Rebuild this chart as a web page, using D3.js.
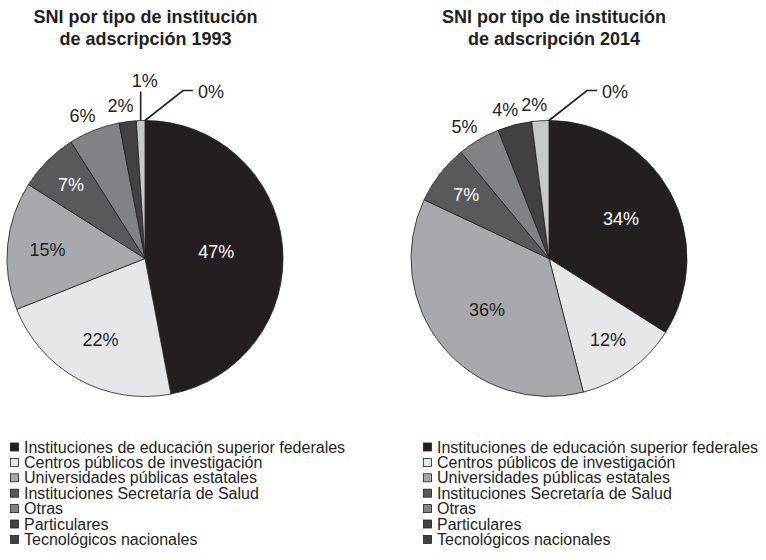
<!DOCTYPE html>
<html>
<head>
<meta charset="UTF-8">
<title>SNI por tipo de institución</title>
<script src="https://d3js.org/d3.v7.min.js"></script>
<style>
    body { margin: 0; background: #fff; }
    text { font-family: "Liberation Sans", Arial, sans-serif; fill: #231f20; }
    .title { font-size: 18px; font-weight: bold; text-anchor: middle; }
    .pct { font-size: 18px; text-anchor: middle; }
    .legend text { font-size: 16px; }
    .slice { stroke: #231f20; stroke-width: 0.8px; }
    .leader { stroke: #231f20; stroke-width: 1.6px; fill: none; }
</style>
</head>
<body>
<script>
    // categorías (la octava no aparece en la leyenda, queda fuera del recorte)
    const categories = [
        "Instituciones de educación superior federales",
        "Centros públicos de investigación",
        "Universidades públicas estatales",
        "Instituciones Secretaría de Salud",
        "Otras",
        "Particulares",
        "Tecnológicos nacionales",
        "Sin dato"
    ];
    const legendNames = categories.slice(0, 7);

    const years = ["1993", "2014"];
    const values1993 = [47, 22, 15, 7, 6, 2, 1, 0];
    const values2014 = [34, 12, 36, 7, 5, 4, 2, 0];

    const sliceColors = ["#231f20", "#e6e7e8", "#a7a9ac", "#58595b", "#808285", "#414042", "#c7c8ca", "#ffffff"];
    const legendColors = ["#231f20", "#e6e7e8", "#a7a9ac", "#58595b", "#808285", "#414042", "#414042"];

    const width = 766;
    const height = 560;
    const radius = 138;

    const charts = [
        { year: years[0], values: values1993, cx: 145, cy: 258.5, titleX: 145.5, legendX: 10 },
        { year: years[1], values: values2014, cx: 549, cy: 258.5, titleX: 554, legendX: 423 }
    ];

    const color = d3.scaleOrdinal().domain(categories).range(sliceColors);
    const legendColor = d3.scaleOrdinal().domain(legendNames).range(legendColors);

    const svg = d3.select('body')
        .append('svg')
        .attr('width', width)
        .attr('height', height);

    const pie = d3.pie()
        .sort(null)
        .value(d => d.value);

    const arc = d3.arc()
        .innerRadius(0)
        .outerRadius(radius);

    function isDark(c) {
        const hsl = d3.hsl(c);
        return hsl.l < 0.45;
    }

    charts.forEach(chart => {
        const data = categories.map((name, i) => ({ name: name, value: chart.values[i] }));
        const arcs = pie(data);

        // título
        const title = svg.append('text')
            .attr('class', 'title')
            .attr('x', chart.titleX)
            .attr('y', 23);
        title.append('tspan').attr('x', chart.titleX).attr('y', 23).text('SNI por tipo de institución');
        title.append('tspan').attr('x', chart.titleX).attr('y', 45).text('de adscripción ' + chart.year);

        const g = svg.append('g')
            .attr('transform', `translate(${chart.cx}, ${chart.cy})`);

        g.selectAll('path')
            .data(arcs.filter(d => d.value > 0))
            .enter()
            .append('path')
            .attr('class', 'slice')
            .attr('d', arc)
            .attr('fill', d => color(d.data.name));

        arcs.forEach(d => {
            const mid = (d.startAngle + d.endAngle) / 2;
            const p = d.value / 100;
            const label = d.value + '%';

            if (d.value === 0) {
                // línea quebrada hacia la derecha
                const x0 = radius * Math.sin(mid), y0 = -radius * Math.cos(mid);
                g.append('path')
                    .attr('class', 'leader')
                    .attr('d', d3.line()([[x0, y0], [x0 + 38, y0 - 30], [x0 + 48, y0 - 30]]));
                g.append('text')
                    .attr('class', 'pct')
                    .style('text-anchor', 'start')
                    .attr('x', x0 + 53)
                    .attr('y', y0 - 29)
                    .attr('dy', '0.35em')
                    .text(label);
            } else if (d.value <= 1) {
                // línea vertical
                const x0 = radius * Math.sin(mid), y0 = -radius * Math.cos(mid);
                g.append('path')
                    .attr('class', 'leader')
                    .attr('d', d3.line()([[x0, y0], [x0, -radius - 29]]));
                g.append('text')
                    .attr('class', 'pct')
                    .attr('x', x0 + 4)
                    .attr('y', -radius - 40)
                    .attr('dy', '0.35em')
                    .text(label);
            } else if (d.value <= 6) {
                const r = radius + 18;
                const c = d3.arc().innerRadius(r).outerRadius(r).centroid(d);
                g.append('text')
                    .attr('class', 'pct')
                    .attr('x', c[0] - 5)
                    .attr('y', c[1] + 2)
                    .attr('dy', '0.35em')
                    .text(label);
            } else {
                const r = radius * (0.5 + 0.3 * (1 - 2 * p));
                const c = d3.arc().innerRadius(r).outerRadius(r).centroid(d);
                g.append('text')
                    .attr('class', 'pct')
                    .attr('x', c[0])
                    .attr('y', c[1])
                    .attr('dy', '0.35em')
                    .style('fill', isDark(color(d.data.name)) ? '#ffffff' : '#231f20')
                    .text(label);
            }
        });

        // leyenda
        const legend = svg.append('g')
            .attr('class', 'legend')
            .attr('transform', `translate(${chart.legendX}, 447)`);

        const rows = legend.selectAll('g')
            .data(legendNames)
            .enter()
            .append('g')
            .attr('transform', (d, i) => `translate(0, ${i * 15.4})`);

        rows.append('rect')
            .attr('x', 0.5)
            .attr('y', -4)
            .attr('width', 8)
            .attr('height', 8)
            .attr('fill', d => legendColor(d))
            .attr('stroke', '#231f20')
            .attr('stroke-width', 0.8);

        rows.append('text')
            .attr('x', 14)
            .attr('y', 0)
            .attr('dy', '0.35em')
            .text(d => d);
    });
</script>
</body>
</html>
